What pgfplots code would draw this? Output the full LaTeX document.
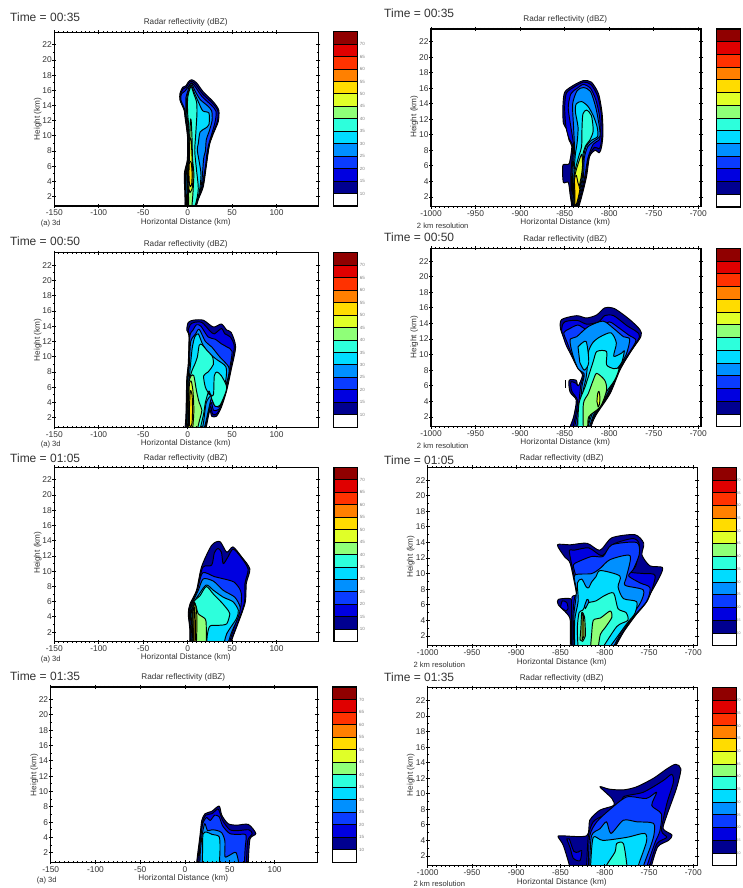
\documentclass[border=0pt]{standalone}
\usepackage{pgfplots}
\pgfplotsset{compat=1.18}
\usepackage{fontspec}
\setmainfont{Liberation Sans}
\definecolor{c10}{HTML}{000090}
\definecolor{c15}{HTML}{0000E0}
\definecolor{c20}{HTML}{0A3CFF}
\definecolor{c25}{HTML}{0090FF}
\definecolor{c30}{HTML}{00DCFF}
\definecolor{c35}{HTML}{2DFFDC}
\definecolor{c40}{HTML}{8FFF78}
\definecolor{c45}{HTML}{E0FF28}
\definecolor{c50}{HTML}{FFDC00}
\definecolor{c55}{HTML}{FF8000}
\definecolor{c60}{HTML}{FF3200}
\definecolor{c65}{HTML}{E00000}
\definecolor{c70}{HTML}{900000}
\definecolor{txt}{gray}{0.2}
\newcommand{\lev}[2]{\addplot[fill=#1,draw=black,line width=0.95pt,line join=round,smooth,tension=0.45,forget plot] coordinates {#2} -- cycle;}
\newcommand{\cell}[3]{\addplot[fill=#1,draw=black,line width=0.9pt,forget plot] coordinates {(0,#2)(1,#2)(1,#3)(0,#3)} -- cycle;}
\newcommand{\cells}{%
\cell{white}{5}{10}\cell{c10}{10}{15}\cell{c15}{15}{20}\cell{c20}{20}{25}\cell{c25}{25}{30}\cell{c30}{30}{35}\cell{c35}{35}{40}\cell{c40}{40}{45}\cell{c45}{45}{50}\cell{c50}{50}{55}\cell{c55}{55}{60}\cell{c60}{60}{65}\cell{c65}{65}{70}\cell{c70}{70}{75}}
\pgfplotsset{
 rad/.style={scale only axis,anchor=south west,axis on top,
  ymin=0.75,ymax=23.65,ytick={2,4,...,22},minor y tick num=1,minor x tick num=9,
  tick align=center,major tick length=4pt,minor tick length=2.2pt,
  axis line style={line width=1.4pt},tick style={black,line width=0.9pt},
  tick label style={font=\fontsize{8.4}{9}\selectfont,text=txt},
  /pgf/number format/assume math mode=true,/pgf/number format/1000 sep={},
  xticklabel style={yshift=1.5pt},yticklabel style={xshift=3pt}},
 radL/.style={rad,xtick={-150,-100,-50,0,50,100}},
 radR/.style={rad,xmin=-1000,xtick={-1000,-950,-900,-850,-800,-750,-700}},
 cb/.style={scale only axis,anchor=south west,axis on top,xmin=0,xmax=1,ymin=5,ymax=75,xtick=\empty,
  ytick={10,15,...,70},major tick length=0pt,yticklabel pos=right,
  axis line style={line width=1.4pt},
  tick label style={font=\fontsize{4.5}{5}\selectfont,text=gray},
  /pgf/number format/assume math mode=true,yticklabel style={xshift=-1pt}},
 cbR/.style={cb,tick label style={font=\fontsize{3.6}{4}\selectfont,text=gray},yticklabel style={xshift=-2.6pt}}
}
\newcommand{\txt}[4]{\node[anchor=#1,inner sep=0pt,text=txt,font=\fontsize{#2}{#2}\selectfont] at (#3) {#4};}
\newcommand{\texts}[9]{% timeX timeY titleX titleY xlabY noteX noteY time note
 \txt{west}{12}{#1,#2}{Time = #8}
 \txt{center}{8.2}{#3,#4}{Radar reflectivity (dBZ)}
 \txt{center}{8.2}{#3,#5}{Horizontal Distance (km)}
 \txt{center}{7.6}{#6,#7}{#9}}
\newcommand{\ylab}[2]{\node[anchor=center,inner sep=0pt,rotate=90,text=txt,font=\fontsize{8.2}{8}\selectfont] at (#1,#2) {Height (km)};}
\begin{document}
\begin{tikzpicture}[x=1pt,y=1pt]
\useasboundingbox (0,0) rectangle (742,888);
% ---------- L1
\begin{axis}[radL,at={(54.3pt,682pt)},width=264pt,height=173.7pt,xmin=-150,xmax=147]
\lev{c10}{(-3,0)(-3,2)(-3.7,5)(-0.4,6.8)(0,9.5)(-1,10.8)(-3,12.5)(-4,13.4)(-8.6,14.7)(-8.6,15.6)(-5.6,16.4)(-1.9,16.6)(0.7,17.1)(4.5,17.4)(10,17)(17.6,15.8)(28.8,14.5)(35,13.4)(34.5,11.9)(29,10.3)(25,9)(23,7.7)(21,6)(17.6,3.3)(12,1.6)(8,0)}
\lev{c15}{(-2.5,0)(-2.5,2)(-3,5)(0,6.8)(0.3,9.5)(-.5,10.8)(-2.5,12.5)(-3.5,13.4)(-8,14.7)(-8,15.5)(-5,16.2)(-1.5,16.4)(1,16.9)(4.5,17.2)(9.5,16.7)(17,15.5)(28,14.3)(34,13.3)(33.5,11.9)(28,10.2)(24.5,9)(22.5,7.6)(20.5,6)(17,3.3)(11.5,1.6)(7.5,0)}
\lev{c20}{(-1.5,0)(-2,2)(-2.3,5)(.5,6.8)(.7,9.5)(0,10.8)(-2,12.5)(-3,13.4)(-7.5,14.7)(-7,15.5)(-3,15.9)(1,16.5)(4.5,17)(9,16.4)(16,15.2)(27,14)(32,13.2)(31,11.9)(27,10.2)(23.5,8.8)(21.5,7.5)(20,6)(16,3.3)(11,1.6)(7,0)}
\lev{c25}{(-1,0)(-1.5,2)(-1.5,5)(1,7)(1,9.5)(.5,10.8)(-1.5,12.5)(-2,13.5)(-2,15)(0,15.8)(2,16.6)(4.5,16.9)(8,16)(14,14.8)(22,14)(27,13.3)(27.5,12)(24,10.5)(21,9.5)(20,8)(18,7)(16,4)(12.5,2)(9,1)(6,0)}
\lev{c30}{(0,0)(0,2)(-.5,5)(1.5,7)(1.5,9.5)(1,11)(-1,13)(-1,15)(1.5,16)(4,16.7)(7,15.8)(12,14.5)(17,13.3)(24,13)(24,11.5)(20,11)(14,10.5)(12,9)(11,8)(15,5)(13,2.5)(9,1)(5,0)}
\lev{c35}{(0.5,0)(.5,2)(0,5)(2,7)(2,9.5)(1.5,11)(0,13)(0,15)(2,16)(4,16.5)(7,15.5)(10,14.5)(10.5,13)(9,10)(8,8)(10,5.5)(12,3)(9,1)(4.5,0)}
\lev{c40}{(1,0)(1,2)(.5,5)(2,7)(2.5,9.5)(3,12)(4,12)(5,9.5)(5.5,7)(7,5)(6,2.5)(5,1)(4,0)}
\lev{c45}{(1.5,3)(1,5)(2,7)(2.5,9.5)(4,9.5)(5,7)(6,4.5)(5,3)(2.5,2.5)}
\lev{c50}{(2,3.6)(1.5,5)(2,6.5)(4,6.5)(5,5)(4.5,3.6)(3,3.3)}
\end{axis}
\begin{axis}[cb,at={(333.3pt,682pt)},width=24pt,height=174.3pt]\cells\end{axis}
% ---------- L2
\begin{axis}[radL,at={(54.3pt,460.7pt)},width=264pt,height=174.6pt,xmin=-150,xmax=147]
\lev{c10}{(-3.7,0)(-2,2)(-1,7)(.7,9.1)(1.5,12.7)(-1,13.5)(.7,14.5)(6.4,14.8)(17.6,14.8)(29,13.9)(38,14.3)(44,13.5)(49,13.2)(54,11.3)(49,8.3)(44,5.6)(38,3.4)(32.5,2.2)(27,2.2)(25,3)(21,.8)(19.5,0)}
\lev{c15}{(-2.5,0)(-1.5,2)(-.5,7)(1,9)(2,12.7)(.5,13.4)(3,14.2)(7,14.5)(16,14.5)(25,13.4)(30,13)(38,13.7)(42,13)(48,12.6)(52.5,11.3)(48,8.3)(43,5.6)(37.5,3.4)(32.5,2.5)(28,2.5)(25.5,3.5)(20,1)(18.5,0)}
\lev{c20}{(-1.5,0)(-1,2)(0,7)(1.5,9)(2.5,12.7)(6,13.5)(10,14.2)(15,14)(23,12.6)(31,12.3)(38,11.7)(44,11.3)(50,10.7)(47,8.3)(42,5.6)(37,3.4)(33,3)(29,3)(26,4)(20,.8)(17.5,0)}
\lev{c25}{(-1,0)(-.5,2)(.5,7)(2,9)(3.5,12)(9,13)(13,13.6)(20,12)(27,11.3)(36,10)(46,8.7)(46,7.5)(41,5.6)(36.5,3.5)(33,3.5)(29,3.8)(26.5,4.5)(20,1.2)(16.5,0)}
\lev{c30}{(0,0)(.2,2)(1,6)(2.5,8)(5,11)(8,12.6)(12,13)(17,11.6)(24,10.5)(32,9.7)(43,8.7)(43,7)(38,5.3)(34,4)(30,4.5)(27,5)(21,4)(18,1.5)(15.5,0)}
\lev{c35}{(0.7,0)(.8,2)(1.5,6.5)(5,8.2)(8,9)(11,10)(13,11.5)(16,11.6)(22,10.8)(28,10)(29,9)(27,8.6)(23,8)(18,7.5)(20,6)(25,5)(29,5)(30,7.5)(33,8)(38,7.5)(44,6)(40,4.5)(36,3.6)(31,3.5)(27,4.5)(24,5.5)(20,4)(18,2.5)(14,0.5)(13,0)}
\lev{c40}{(1,0)(1,2)(1.5,6.5)(4,7.5)(7,7.5)(10,5.5)(13,4)(16,3)(13,1.5)(10,0)}
\lev{c45}{(1.5,0)(1,2)(1.5,4)(2,6.5)(4,6.8)(6,5.5)(7,3)(6,1)(5,0)}
\lev{c50}{(2,1)(2,3)(3,5.5)(5,5)(5.5,3)(5,1.3)(3.5,.8)}
\end{axis}
\begin{axis}[cb,at={(333.3pt,460.7pt)},width=24pt,height=174.6pt]\cells\end{axis}
% ---------- L3
\begin{axis}[radL,at={(54.3pt,246.3pt)},width=264pt,height=174.4pt,xmin=-150,xmax=147]
\lev{c10}{(2,0)(2.6,2.2)(.7,4.4)(2.6,5.7)(10,7.5)(15.7,10.6)(27,13.4)(36.3,13.9)(44,12.5)(51,13.2)(60.7,11.9)(70,10.3)(66,8.4)(64.4,5.7)(51,1.4)(47.5,0)}
\lev{c15}{(3,0)(3,2.2)(1.5,4.4)(3.5,5.7)(10.5,7.5)(17,10.5)(27,10.8)(30,12.4)(34,13)(38,12.5)(40,11)(45,11.8)(51,12.9)(59,12)(68,10.3)(64.5,8.4)(63.5,5.7)(50.5,1.4)(46.5,0)}
\lev{c20}{(4,0)(3.5,2.2)(2,4.4)(4.5,5.7)(11,7.6)(17,9.8)(30,9.3)(44,8.9)(52,8.6)(58,7.8)(60.5,7)(60,5.5)(57,4.3)(49,1.4)(45.5,0)}
\lev{c25}{(5,0)(4.5,2.2)(3,4.4)(5,5.7)(12,7.5)(17.6,9)(29,8.7)(40,7.5)(53,6.6)(59,5.3)(57,4)(49.5,2)(44,0)}
\lev{c30}{(5.5,0)(5,2.2)(4,4.4)(6,5.7)(13,7)(21,8.2)(29,7.5)(40,6.6)(51,6)(57,4.9)(55,3.8)(44,1.8)(40,0)}
\lev{c35}{(6,0)(5.5,2.2)(5,4.4)(7,6)(14,6.8)(21,8)(29,7)(39,5.8)(46,4.8)(47.5,4.4)(44,3.1)(35,2.9)(25,2.8)(22,1.5)(21.5,0)}
\lev{c40}{(7,0)(6.5,2)(5.5,4.4)(7.5,5.9)(10,5.2)(12,4.4)(20,3.7)(21,2.5)(21,1)(20.5,0)}
\lev{c45}{(7,0)(6.5,2)(6,4.4)(8,5.8)(10,4.8)(10.5,3)(10,1)(10,0)}
\lev{c50}{(7,0)(7,2)(7,4.4)(8,5.3)(8.7,3)(8.5,0)}
\end{axis}
\begin{axis}[cb,at={(334pt,246.3pt)},width=23.3pt,height=174.4pt]\cells\end{axis}
% ---------- L4
\begin{axis}[radL,at={(50.7pt,25.7pt)},width=266.6pt,height=175.3pt,xmin=-150,xmax=147.6]
\lev{c10}{(13,0)(13,.8)(16.7,4.3)(18.6,6.2)(22.3,7.1)(29.7,7.4)(38,8.1)(41,6.9)(48,5.8)(57.6,5.6)(70.6,5.7)(79,4.5)(72.5,3.8)(70.6,.8)(70.6,0)}
\lev{c15}{(14,0)(14,.8)(17.5,4.3)(19.5,6)(23,6.9)(30,7.1)(36,7.7)(38,7.5)(42,6.2)(50,5)(60,4.9)(71,5)(75,4.5)(70,3.6)(68.5,.8)(68,0)}
\lev{c20}{(15.5,0)(16,2)(18,4.5)(20,5.9)(24,6.6)(28,6.2)(33,6.9)(38,6.7)(42,5.5)(50,4.5)(60,4.4)(68,4.3)(67,2.5)(66,0)}
\lev{c25}{(16.5,0)(17,2)(19,4.3)(22,5.8)(25,4.9)(30,5)(36,4.9)(41,4.6)(44.5,3.5)(44.5,1.5)(50,1.7)(57,2)(61,0)}
\lev{c30}{(19,0)(19.5,2)(20,4.4)(24,4.7)(30,4.4)(38,4.1)(39,2.5)(38,0)}
\end{axis}
\begin{axis}[cb,at={(332.3pt,25.7pt)},width=24.4pt,height=175.3pt]\cells\end{axis}
% ---------- R1
\begin{axis}[radR,at={(431pt,681.3pt)},width=270pt,height=177.7pt,xmax=-697]
\lev{c10}{(-842,0)(-842,.8)(-844,2.4)(-846,3.9)(-851.5,3.9)(-852,6.1)(-845,6.3)(-842,8.5)(-845,9.3)(-848,10.8)(-851.5,11.5)(-852,13.6)(-850,15.5)(-840,16.4)(-829,17)(-820,16.8)(-812,15.3)(-808,12.8)(-807,10.2)(-808.5,8.5)(-811,7.7)(-816,8)(-822,7.2)(-825.5,4.6)(-831,2)(-836,0)}
\lev{c15}{(-841,0)(-843,2.4)(-843,5)(-841,8.5)(-845,9.5)(-848.5,11)(-850,13.5)(-848,15.4)(-839,16.2)(-829,16.8)(-820.5,16.5)(-813,15)(-809,12.8)(-808,10.2)(-809.5,8.7)(-811.5,8.2)(-816.5,8.4)(-823,7.2)(-826.5,4.6)(-832,2)(-837,0)}
\lev{c20}{(-840,0)(-842,2.4)(-842,5)(-840,8.5)(-843,11)(-846,13.5)(-843,15.3)(-836,16)(-829,16.5)(-821,16)(-815,14.5)(-811,12.5)(-810,10.5)(-811,9.4)(-818,8.8)(-824,7)(-827.5,4.6)(-833,2)(-837.5,0)}
\lev{c25}{(-839.5,0)(-841,2.4)(-841,5)(-839,8)(-840,11)(-841,14)(-836,15.7)(-829,16.1)(-821,15.6)(-815,13.5)(-811,11)(-810.5,9.8)(-816,9.3)(-824,8.5)(-828,7)(-829,4.6)(-834,2)(-838,0)}
\lev{c30}{(-839,0)(-840,2.4)(-839.5,5)(-838,7.5)(-836,9)(-835,11)(-838,13)(-837,14)(-831,14.3)(-824,13.7)(-818,12.5)(-813.5,11)(-813,9.8)(-820,9.3)(-826,8.5)(-829,7)(-830,4.6)(-835,2)(-838.5,0)}
\lev{c35}{(-838.5,0)(-839.5,2.4)(-839,5)(-836,6.5)(-833.5,7.5)(-831,8.5)(-830.5,11)(-829.5,12.7)(-825.5,13.2)(-820,12.5)(-818,10.5)(-822,9.3)(-826,8.7)(-829.5,7.5)(-830.5,5)(-835,2)(-838.5,0)}
\lev{c45}{(-838,0)(-839,2.4)(-838.5,4.8)(-837,5.5)(-831,7.5)(-830,6)(-831.5,4.6)(-836,2)(-838.5,0)}
\lev{c50}{(-838.5,1)(-838.5,2.4)(-839,4.3)(-837,4.8)(-835,3.8)(-833,3)(-835,1.8)(-837,1)}
\end{axis}
\begin{axis}[cb,at={(716.7pt,681pt)},width=24pt,height=178pt,ytick=\empty]\cells\end{axis}
% ---------- R2
\begin{axis}[radR,at={(431pt,461.3pt)},width=270pt,height=178.4pt,xmax=-697]
\lev{c10}{(-844,0)(-844,.7)(-840,2)(-837,4.15)(-844,5.2)(-845,6.7)(-837,6.7)(-835,5.9)(-829,7.6)(-835,8.45)(-842,10.2)(-848,11.5)(-854.5,13.2)(-853.5,14.5)(-836.5,15)(-825.5,14.7)(-814,15.1)(-805,16)(-794,15.9)(-777,14.5)(-765.5,13.2)(-764.5,12.3)(-777,10.2)(-788,8)(-799,5)(-814,2.4)(-821.5,.7)(-821.5,0)}
\addplot[black,line width=0.9pt,forget plot] coordinates {(-849,5.7)(-849,6.7)};
\lev{c15}{(-842,0)(-838,2)(-835.5,4.1)(-842,5.3)(-843,6.5)(-837,6.3)(-834.5,6)(-830,7.4)(-836,8.4)(-843,10)(-849,11.4)(-853.5,13.2)(-850,14.2)(-836,14.4)(-825,13.9)(-812,14.2)(-805,15)(-795,15)(-780,13.7)(-770,13)(-766,12.3)(-778,10)(-789,8)(-800,5)(-815,2.4)(-822.5,0)}
\lev{c20}{(-840,0)(-835,3)(-832,6)(-829,7.3)(-835,8.3)(-842,10)(-847,11.5)(-851,12.8)(-845,13.3)(-835,13.8)(-825,13.2)(-812,13.4)(-800,14.2)(-790,13.5)(-778,12.5)(-770,11.8)(-779,10)(-790,8)(-801,5)(-816,2.4)(-823,0)}
\lev{c25}{(-838,0)(-833,3)(-830.5,6)(-828,7.5)(-835,8.2)(-841,10)(-844,11.9)(-836.5,12.3)(-823.5,13.6)(-807,14.3)(-795.5,13.4)(-784,12.3)(-777,12)(-781,10)(-791,8)(-802,5)(-817,2.4)(-824,0)}
\lev{c30}{(-836,0)(-831,3)(-829,5.5)(-826,7)(-824,9)(-823,10.5)(-818,11.6)(-810,12.3)(-798,12.8)(-792,11.5)(-795,9.8)(-786,10.2)(-783,10.5)(-786,9)(-794,7.7)(-804,5)(-819,2.4)(-825.5,0)}
\lev{c30}{(-835,11)(-826,11.7)(-823,9)(-828,8)(-833,9)}
\lev{c35}{(-835.5,0)(-834,3.7)(-827,5.9)(-818,9.1)(-814,10.4)(-803,10.4)(-803,8.7)(-795,8.2)(-789,8.2)(-794,6.7)(-805,5)(-819,3)(-826,0)}
\lev{c40}{(-829,0)(-829,3.7)(-823.5,5)(-818,6.7)(-814,7.6)(-805,6.7)(-803,5.4)(-810,3.3)(-823,2)(-824,0)}
\lev{c45}{(-813.8,4)(-813,5)(-811.5,5.3)(-810.4,4.5)(-811,3.6)(-812.5,3.3)}
\end{axis}
\begin{axis}[cb,at={(716.7pt,461.3pt)},width=24pt,height=178.4pt,ytick=\empty]\cells\end{axis}
% ---------- R3
\begin{axis}[radR,at={(427.7pt,242.3pt)},width=269.6pt,height=178.4pt,xmax=-695.5]
\lev{c10}{(-839,0)(-839,.7)(-839,4)(-843,4.9)(-852.5,6)(-852.5,6.7)(-839,6.8)(-835,6.2)(-830,5.7)(-832,7.5)(-839,11.3)(-845,12.1)(-853.5,13.7)(-839,13.7)(-820,13.9)(-805.5,13)(-792,14.6)(-766,15)(-756,13.9)(-758,12.4)(-749,11)(-735,10.8)(-738,9.6)(-753,6.6)(-772,3.6)(-790,.7)(-790,0)}
\lev{c15}{(-850,5.7)(-848,6.5)(-843,6.3)(-841.5,5.5)(-844,5.2)}
\lev{c15}{(-837.5,0)(-837.5,4.5)(-837,7)(-831,7.5)(-838,11.5)(-840,13)(-835,13)(-818,13.3)(-803,12.3)(-790,13.8)(-768,14.5)(-761,13.7)(-765,11)(-771,10.2)(-755,10)(-743,9.7)(-752,6.5)(-773,3.6)(-791,0)}
\lev{c20}{(-836,0)(-836,4.5)(-834,7)(-829,8)(-835,10.7)(-834,11.3)(-815,12.2)(-802,12.2)(-792,13.7)(-764,14)(-761,12.5)(-768,10.5)(-773,9.7)(-760,8.8)(-749,8.2)(-753,6.4)(-774,3.6)(-792,0)}
\lev{c25}{(-835,0)(-835,4.5)(-833,6.5)(-832,8)(-834,9.8)(-815,10)(-805,10.7)(-794,11.8)(-771.5,12.3)(-775.5,9.6)(-777,8.5)(-756.5,7.9)(-760,6.2)(-776,3.6)(-793,0)}
\lev{c30}{(-834,0)(-834,4)(-830,6.5)(-831,8.8)(-826,9.3)(-821,8.3)(-818,8.2)(-815,8.9)(-810,9.6)(-805,10.4)(-783,9.7)(-785,8.3)(-779,6.8)(-764,6.4)(-766,4.9)(-775,3.6)(-798,0)}
\lev{c35}{(-830,0)(-831,3)(-829,5)(-825,5.3)(-820,6.2)(-810,6.5)(-800,7.2)(-790,7.5)(-785,5.5)(-776,5)(-774,4)(-786.5,3.2)(-805,0)}
\lev{c25}{(-823,5.8)(-820,6.7)(-818,6.4)(-822,5.5)}
\lev{c40}{(-816.5,0)(-815,2)(-813,4)(-805,4.3)(-794,5.2)(-792,4.4)(-800,3)(-805,2.2)(-808,0)}
\lev{c40}{(-828,1.5)(-827,3)(-826,5)(-823,4.5)(-822,3)(-822,2)(-825,1.3)}
\lev{c45}{(-825.5,1.5)(-825.5,4.6)(-824,4.6)(-823.5,2)}
\end{axis}
\begin{axis}[cbR,at={(712.7pt,242.3pt)},width=24pt,height=178.4pt]\cells\end{axis}
% ---------- R4
\begin{axis}[radR,at={(427.7pt,22.3pt)},width=269.6pt,height=178pt,xmax=-695.5]
\lev{c10}{(-840,0)(-840,.8)(-847,3.4)(-852.5,4.4)(-850,4.6)(-820.5,4.6)(-817,6.6)(-805.5,7.9)(-790,8.5)(-792,9.4)(-805.5,10.9)(-795,10.6)(-779,10.5)(-764,10.9)(-745,12)(-730,13.2)(-720,13.8)(-714,13.2)(-719,10.7)(-730,7.2)(-734,5.5)(-724,4.7)(-728,4)(-740,3.2)(-747,.8)(-747,0)}
\lev{c15}{(-843,4.2)(-839,3)(-835.5,1.7)(-828,1.4)(-826,2.7)(-830,2.5)(-835,2.6)(-840,4.2)}
\lev{c15}{(-820.5,0)(-820.5,.8)(-818.5,4.6)(-813,6.4)(-801.5,7.2)(-783,8.1)(-779,9.6)(-756.5,10.2)(-734,11.7)(-724.5,12.5)(-722.5,11.5)(-730,8.7)(-736,5.3)(-730,4.4)(-741,3.6)(-749,.8)(-749,0)}
\lev{c20}{(-818.5,0)(-818.5,.8)(-817,4.6)(-809,6.4)(-794,8)(-775,9.6)(-753,9.4)(-741.5,10.2)(-747,8.5)(-736,7.4)(-738,5.1)(-743,3.8)(-752,.8)(-752,0)}
\lev{c25}{(-817,0)(-817,.8)(-815,4.6)(-805.5,5.5)(-798,6.4)(-793,4.9)(-779,6.6)(-764,6.4)(-745,6.2)(-744.5,4.7)(-749,3)(-756,.8)(-756,0)}
\lev{c30}{(-816,0)(-816,.8)(-813,4.4)(-802,4)(-775,4.4)(-755,4.9)(-753,3.8)(-762,.8)(-762,0)}
\lev{c35}{(-798,0)(-798,.8)(-788.5,2.5)(-786.5,3.6)(-779,3.6)(-775,.8)(-775,0)}
\end{axis}
\begin{axis}[cbR,at={(712.7pt,22.3pt)},width=24pt,height=178pt]\cells\end{axis}
% ---------- texts (y measured from page bottom)
\texts{10}{870.7}{185.7}{866}{666}{50.7}{664}{00:35}{(a) 3d}
\ylab{37.7}{769}
\texts{384}{874.3}{565.3}{869}{665.3}{442.7}{662.7}{00:35}{2 km resolution}
\ylab{414.3}{771.3}
\texts{10}{646.3}{185.7}{644}{444.7}{50.7}{443}{00:50}{(a) 3d}
\ylab{37.7}{548}
\texts{384}{650.7}{565.3}{648.7}{445.3}{442.7}{442.7}{00:50}{2 km resolution}
\ylab{414.3}{550.7}
\texts{10}{429.3}{185.7}{430}{231}{50.7}{228.7}{01:05}{(a) 3d}
\ylab{37.7}{335.3}
\texts{384}{428}{561.7}{429.7}{226}{439.3}{223.7}{01:05}{2 km resolution}
\ylab{410.7}{331.3}
\texts{10}{211.3}{183.3}{210.7}{9.7}{46.7}{7}{01:35}{(a) 3d}
\ylab{34.3}{113}
\texts{384}{210.3}{561.7}{209.7}{6}{439.3}{4}{01:35}{2 km resolution}
\ylab{410.7}{113}
\end{tikzpicture}
\end{document}
